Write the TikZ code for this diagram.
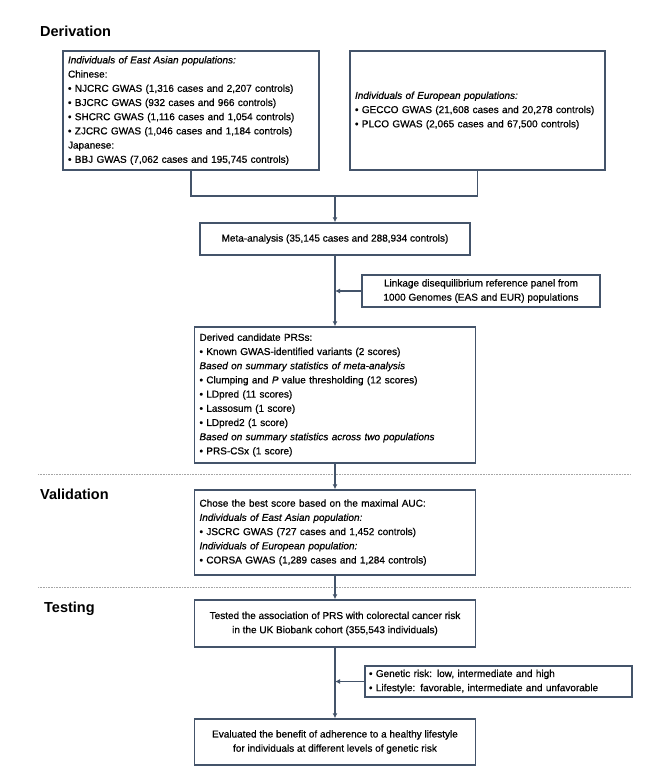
\documentclass[tikz,border=0pt]{standalone}
\usepackage{fontspec}
\setmainfont{Liberation Sans}[
  UprightFeatures={FakeBold=0.6},
  ItalicFeatures={FakeBold=0.6}]
\usetikzlibrary{
  arrows.meta,
  positioning,
  calc
}
\definecolor{slate}{RGB}{68,84,106}
\definecolor{dotgrey}{RGB}{165,165,165}
\newcommand{\boxfont}{\fontsize{10}{14.2}\selectfont}
\newcommand{\stagefont}{\fontsize{14.5}{17}\selectfont\bfseries}

\begin{document}
\begin{tikzpicture}[x=1pt, y=-1pt,
  every node/.style={font=\boxfont},
  flowbox/.style={draw=slate, line width=1.5pt, fill=white},
  listbox/.style={flowbox, align=left, inner xsep=5pt, inner ysep=0pt},
  midbox/.style={flowbox, align=center, inner sep=0pt},
  stage/.style={font=\stagefont, anchor=west, inner sep=0pt},
  link/.style={draw=slate, line width=1.5pt},
  arr/.style={link, -{Latex[length=5pt,width=5pt]}},
  divider/.style={dotgrey, line width=0.6pt, dash pattern=on 0.8pt off 0.8pt}
]
\useasboundingbox (0,0) rectangle (648,768);

% Derivation
\node[stage] (derivT) at (40,31) {Derivation};
\node[listbox, text width=246pt, minimum height=119pt] (eas) at (191,110.5)
  {\textit{Individuals of East Asian populations:}\\
   Chinese:\\
   • NJCRC GWAS (1,316 cases and 2,207 controls)\\
   • BJCRC GWAS (932 cases and 966 controls)\\
   • SHCRC GWAS (1,116 cases and 1,054 controls)\\
   • ZJCRC GWAS (1,046 cases and 1,184 controls)\\
   Japanese:\\
   • BBJ GWAS (7,062 cases and 195,745 controls)};
\node[listbox, text width=245pt, minimum height=119pt] (eur) at (477.5,110.5)
  {\textit{Individuals of European populations:}\\
   • \mbox{GECCO GWAS (21,608 cases and 20,278 controls)}\\
   • PLCO GWAS (2,065 cases and 67,500 controls)};
\node[midbox, minimum width=270pt, minimum height=32pt] (meta) at (335,239)
  {Meta-analysis (35,145 cases and 288,934 controls)};
\node[midbox, minimum width=238pt, minimum height=32pt] (ldpanel) at (481,291)
  {Linkage disequilibrium reference panel from\\
   1000 Genomes (EAS and EUR) populations};
\node[listbox, text width=271pt, minimum height=136pt] (derived) at (335,395)
  {Derived candidate PRSs:\\
   • Known GWAS-identified variants (2 scores)\\
   \textit{Based on summary statistics of meta-analysis}\\
   • Clumping and \textit{P} value thresholding (12 scores)\\
   • LDpred (11 scores)\\
   • Lassosum (1 score)\\
   • LDpred2 (1 score)\\
   \textit{Based on summary statistics across two populations}\\
   • PRS-CSx (1 score)};

% Validation
\node[stage] (validT) at (40,494) {Validation};
\node[listbox, text width=271pt, minimum height=85pt] (valid) at (335,532.5)
  {Chose the best score based on the maximal AUC:\\
   \textit{Individuals of East Asian population:}\\
   • JSCRC GWAS (727 cases and 1,452 controls)\\
   \textit{Individuals of European population:}\\
   • CORSA GWAS (1,289 cases and 1,284 controls)};

% Testing
\node[stage] (testT) at (44,609) {Testing};
\node[midbox, minimum width=281pt, minimum height=47pt] (test) at (335,623.5)
  {Tested the association of PRS with colorectal cancer risk\\
   in the UK Biobank cohort (355,543 individuals)};
\node[listbox, inner xsep=4pt, text width=259pt, minimum height=31pt] (risk) at (498.5,681.5)
  {• Genetic risk: low, intermediate and high\\
   • Lifestyle: favorable, intermediate and unfavorable};
\node[midbox, minimum width=281pt, minimum height=46pt] (eval) at (335,742)
  {Evaluated the benefit of adherence to a healthy lifestyle\\
   for individuals at different levels of genetic risk};

% stage dividers
\draw[divider] (38,474) -- (631,474);
\draw[divider] (38,587) -- (631,587);

% connectors
\coordinate (join) at (335,196);
\draw[link] (eas.south) |- (join) -| (eur.south);
\draw[arr] (join) -- (meta.north);
\draw[arr] (meta.south) -- (derived.north);
\draw[arr] (ldpanel.west) -- (ldpanel.west -| meta.south);
\draw[arr] (derived.south) -- (valid.north);
\draw[arr] (valid.south) -- (test.north);
\draw[arr] (test.south) -- (eval.north);
\draw[arr] (risk.west) -- (risk.west -| test.south);
\end{tikzpicture}
\end{document}
